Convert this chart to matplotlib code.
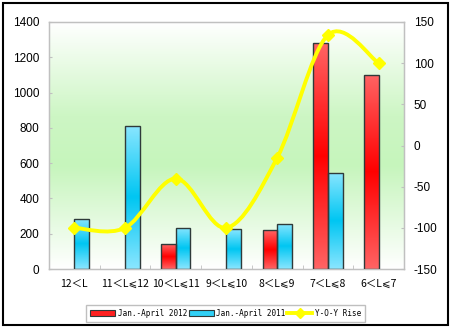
import numpy as np
import matplotlib
matplotlib.use("Agg")
import matplotlib.pyplot as plt
from matplotlib.path import Path
from matplotlib.patches import PathPatch, Rectangle, Patch
from matplotlib.lines import Line2D
from matplotlib.colors import LinearSegmentedColormap

# Bus sales by length segment (units) and year-over-year change (%)
categories = ["12＜L", "11＜L⩽12", "10＜L⩽11", "9＜L⩽10", "8＜L⩽9", "7＜L⩽8", "6＜L⩽7"]
sales_2012 = [0, 0, 140, 0, 219, 1279, 1100]
sales_2011 = [285, 812, 234, 225, 257, 546, 0]
yoy_rise = [-100, -100, -40.2, -100, -14.8, 134.2, 100]

left_ticks = [0, 200, 400, 600, 800, 1000, 1200, 1400]
right_ticks = [-150, -100, -50, 0, 50, 100, 150]

W, H = 450, 329
fig = plt.figure(figsize=(W / 100, H / 100), dpi=100)
fig.patch.set_facecolor("white")

ax = fig.add_axes([49 / W, 1 - 269 / H, (404 - 49) / W, (269 - 22) / H])
ax.set_xlim(-0.5, len(categories) - 0.5)
ax.set_ylim(0, 1400)
ax.set_facecolor("none")

# plot-area background: white -> soft green -> white
bg_cmap = LinearSegmentedColormap.from_list(
    "bg", [(0.0, "#ffffff"), (0.42, "#c6f5bc"), (0.62, "#cdf6c4"), (1.0, "#ffffff")])
grad = np.linspace(0, 1, 256).reshape(-1, 1)
ax.imshow(grad, cmap=bg_cmap, aspect="auto", extent=(-0.5, len(categories) - 0.5, 1400, 0),
          zorder=0, interpolation="bilinear")
ax.set_ylim(0, 1400)

red_cmap = LinearSegmentedColormap.from_list("red", ["#ff6464", "#ff0000", "#ff6464"])
blue_cmap = LinearSegmentedColormap.from_list("blue", ["#8ae6ff", "#00c6f2", "#8ae6ff"])

x = np.arange(len(categories))
bw = 0.29


def gradient_bars(xpos, heights, cmap):
    bars = ax.bar(xpos, heights, width=bw, facecolor="none", edgecolor="#2f3a3a",
                  linewidth=1.0, zorder=3)
    for rect, h in zip(bars, heights):
        if h <= 0:
            rect.set_visible(False)
            continue
        x0 = rect.get_x()
        im = ax.imshow(grad, cmap=cmap, aspect="auto",
                       extent=(x0, x0 + rect.get_width(), 0, h), zorder=2,
                       interpolation="bilinear")
        im.set_clip_path(rect)
    return bars


gradient_bars(x - bw / 2, sales_2012, red_cmap)
gradient_bars(x + bw / 2, sales_2011, blue_cmap)
ax.set_xlim(-0.5, len(categories) - 0.5)
ax.set_ylim(0, 1400)

grey = "#c0c0c0"
for s in ax.spines.values():
    s.set_color(grey)
    s.set_linewidth(1.0)

ax.set_yticks(left_ticks)
ax.set_yticklabels([str(t) for t in left_ticks], fontsize=8.5, family="Liberation Sans")
ax.tick_params(axis="y", direction="in", length=2, color=grey, pad=7)
ax.set_xticks(x)
ax.set_xticklabels(categories, fontsize=7.5, family=["Noto Sans CJK SC", "DejaVu Sans"])
ax.tick_params(axis="x", length=0, pad=7)
ax.set_xticks(np.arange(0.5, len(categories) - 0.5), minor=True)
ax.tick_params(axis="x", which="minor", direction="in", length=3, color=grey)

# secondary axis for the growth rate
ax2 = ax.twinx()
ax2.set_ylim(-150, 150)
ax2.set_xlim(-0.5, len(categories) - 0.5)
for s in ax2.spines.values():
    s.set_color(grey)
ax2.set_yticks(right_ticks)
ax2.set_yticklabels([str(t) for t in right_ticks], fontsize=8.5, family="Liberation Sans")
ax2.tick_params(axis="y", direction="in", length=2, color=grey, pad=7)

# smoothed line through the growth points (cubic Bezier, Catmull-Rom style)
pts = np.column_stack([x, yoy_rise]).astype(float)
n = len(pts)
verts = [pts[0]]
codes = [Path.MOVETO]
for i in range(n - 1):
    p_prev = pts[i - 1] if i > 0 else pts[i]
    p_next2 = pts[i + 2] if i + 2 < n else pts[i + 1]
    c1 = pts[i] + (pts[i + 1] - p_prev) / 6
    c2 = pts[i + 1] - (p_next2 - pts[i]) / 6
    verts += [c1, c2, pts[i + 1]]
    codes += [Path.CURVE4] * 3
ax2.add_patch(PathPatch(Path(verts, codes), facecolor="none", edgecolor="#ffff00",
                        linewidth=2.8, zorder=4, capstyle="round", joinstyle="round"))
ax2.plot(x, yoy_rise, linestyle="none", marker="D", markersize=6,
         color="#ffff00", zorder=5)

# legend
handles = [
    Patch(facecolor="#ff2020", edgecolor="#2f3a3a", linewidth=0.8),
    Patch(facecolor="#30d0f6", edgecolor="#2f3a3a", linewidth=0.8),
    Line2D([0], [0], color="#ffff00", linewidth=2.8, marker="D", markersize=5),
]
labels = ["Jan.-April 2012", "Jan.-April 2011", "Y-O-Y Rise"]
leg = fig.legend(handles, labels, loc="center", bbox_to_anchor=(225.5 / W, 1 - 313.5 / H),
                 ncol=3, prop={"family": "DejaVu Sans Mono", "size": 5.5},
                 handlelength=3.3, handleheight=0.8, handletextpad=0.3,
                 columnspacing=0.2, borderpad=0.55, frameon=True, fancybox=False)
leg.get_frame().set_edgecolor("#b0b0b0")
leg.get_frame().set_linewidth(1.0)

# outer frame
fig.add_artist(Rectangle((2.5 / W, 4 / H), 445.5 / W, 322.5 / H, transform=fig.transFigure,
                         fill=False, edgecolor="black", linewidth=1.5))

fig.savefig("out.png", dpi=100)
